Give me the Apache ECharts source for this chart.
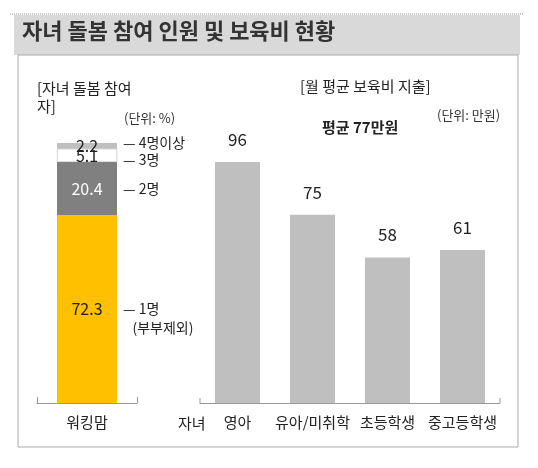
<!DOCTYPE html>
<html><head><meta charset="utf-8">
<script src="https://cdn.jsdelivr.net/npm/echarts@6/dist/echarts.min.js"></script>
<style>body{margin:0;background:#fff}#c{width:538px;height:468px}</style></head>
<body><div id="c"></div>
<script>
const leftCategory = ['워킹맘'];
const shareNames = ['1명', '2명', '3명', '4명이상'];
const shareLabels = ['1명\n(부부제외)', '2명', '3명', '4명이상'];
const shareValues = [72.3, 20.4, 5.1, 2.2];
const costCategories = ['영아', '유아/미취학', '초등학생', '중고등학생'];
const costValues = [96, 75, 58, 61];

const F = 'Noto Sans CJK KR';
const shareColors = ['#FFC000', '#808080', '#ffffff', '#BFBFBF'];
const valueColors = ['#222', '#fff', '#222', '#222'];
const chart = echarts.init(document.getElementById('c'));
const series = [];
shareValues.forEach((v, i) => {
  series.push({
    type: 'bar', name: shareNames[i], stack: 's', xAxisIndex: 0, yAxisIndex: 0,
    data: [v], barWidth: 60,
    itemStyle: { color: shareColors[i], borderColor: i === 2 ? '#aaa' : 'transparent', borderWidth: i === 2 ? 0.5 : 0 },
    label: { show: true, position: 'inside', color: valueColors[i], fontFamily: F, fontSize: 16,
      offset: i >= 2 ? [0, i === 3 ? 0 : 1] : [0, 0] },
    silent: true
  });
});
shareValues.forEach((v, i) => {
  series.push({
    type: 'bar', stack: 'n', xAxisIndex: 1, yAxisIndex: 0, data: [v], barWidth: 60,
    itemStyle: { color: 'transparent' },
    label: { show: true, position: 'right', distance: 6, fontFamily: F, fontSize: 14, color: '#222', lineHeight: 19,
      formatter: '— ' + shareLabels[i].replace('\n', '\n   '),
      offset: i === 0 ? [0, 9] : (i === 3 ? [0, -3] : (i === 2 ? [0, 4] : [0, 0])) },
    silent: true
  });
});
series.push({
  type: 'bar', xAxisIndex: 2, yAxisIndex: 1, data: costValues, barWidth: 45,
  itemStyle: { color: '#BFBFBF' },
  label: { show: true, position: 'top', distance: 14, fontFamily: F, fontSize: 17, color: '#222' },
  silent: true
});

chart.setOption({
  animation: false,
  graphic: [
    { type: 'rect', shape: { x: 14, y: 15, width: 506, height: 40 }, style: { fill: '#D9D9D9' } },
    { type: 'line', shape: { x1: 10, y1: 14, x2: 524, y2: 14 }, style: { stroke: '#999', lineDash: [1, 1], lineWidth: 1 } },
    { type: 'rect', shape: { x: 18, y: 55, width: 500, height: 392 }, style: { fill: 'none', stroke: '#aaa', lineWidth: 1 } },
    { type: 'text', x: 22, y: 20, style: { text: '자녀 돌봄 참여 인원 및 보육비 현황', font: 'bold 22px "' + F + '"', fill: '#333' } },
    { type: 'text', x: 37, y: 79, style: { text: '[자녀 돌봄 참여\n자]', font: '15px "' + F + '"', fill: '#222', lineHeight: 18 } },
    { type: 'text', x: 124, y: 112, style: { text: '(단위: %)', font: '13px "' + F + '"', fill: '#333' } },
    { type: 'text', x: 300, y: 79, style: { text: '[월 평균 보육비 지출]', font: '15px "' + F + '"', fill: '#222' } },
    { type: 'text', x: 322, y: 120, style: { text: '평균 77만원', font: '600 15px "' + F + '"', fill: '#222' } },
    { type: 'text', x: 437, y: 109, style: { text: '(단위: 만원)', font: '13px "' + F + '"', fill: '#333' } },
    { type: 'text', x: 178, y: 416, style: { text: '자녀', font: '15px "' + F + '"', fill: '#222' } },
    { type: 'line', shape: { x1: 200, y1: 403, x2: 200, y2: 398 }, style: { stroke: '#999' } },
    { type: 'line', shape: { x1: 500, y1: 403, x2: 500, y2: 398 }, style: { stroke: '#999' } }
  ],
  grid: [
    { left: 37, width: 100, top: 143, height: 260 },
    { left: 200, width: 300, top: 143, height: 260 }
  ],
  xAxis: [
    { type: 'category', gridIndex: 0, data: leftCategory,
      axisLine: { lineStyle: { color: '#999' } }, axisTick: { show: true, length: -6, lineStyle: { color: '#999' } },
      axisLabel: { fontFamily: F, fontSize: 15, color: '#222', margin: 12 } },
    { type: 'category', gridIndex: 0, data: leftCategory, show: false },
    { type: 'category', gridIndex: 1, data: costCategories,
      axisLine: { lineStyle: { color: '#999' } }, axisTick: { show: false },
      axisLabel: { interval: 0, fontFamily: F, fontSize: 15, color: '#222', margin: 12 } }
  ],
  yAxis: [
    { type: 'value', gridIndex: 0, min: 0, max: 100, show: false },
    { type: 'value', gridIndex: 1, min: 0, max: 103.6, show: false }
  ],
  series
});
</script></body></html>
